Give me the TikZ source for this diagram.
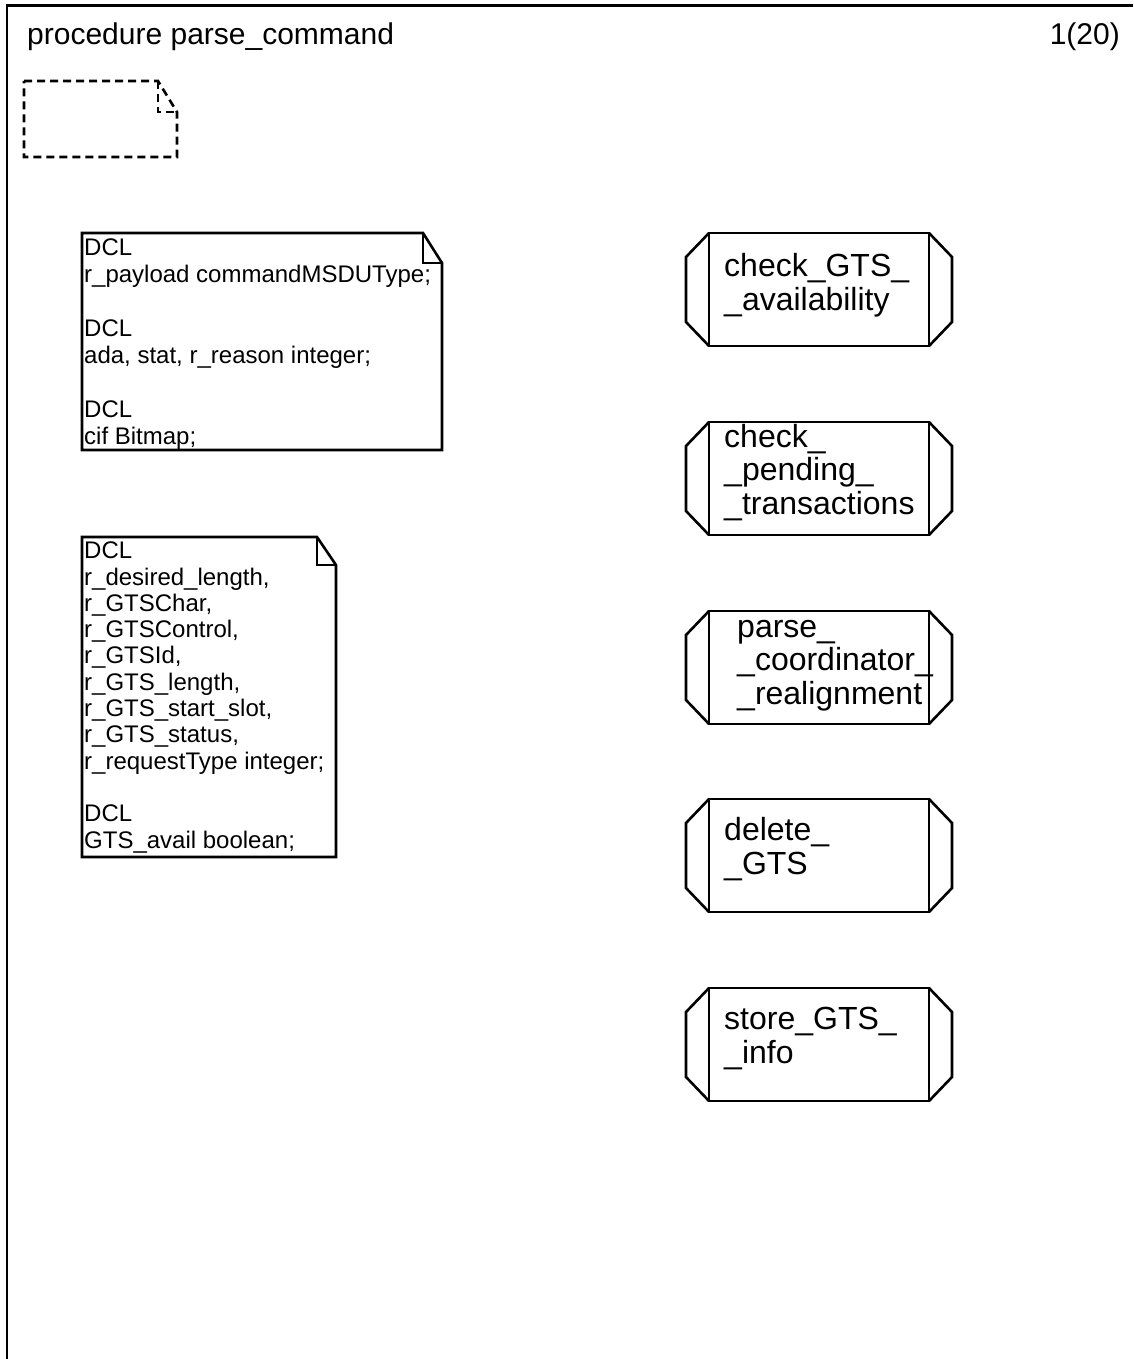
\documentclass[tikz,border=0pt]{standalone}
\usepackage{fontspec}
\setmainfont{Liberation Sans}
\begin{document}
\begin{tikzpicture}[x=1pt,y=-1pt,
  frameline/.style={line width=2.8pt},
  symline/.style={line width=2.6pt, line join=miter},
  dashline/.style={line width=2.6pt, dash pattern=on 8pt off 5pt},
  proc/.style={draw, line width=2.6pt, rectangle, minimum width=220pt,
    minimum height=113pt, inner sep=0pt, outer sep=0pt},
  proctext/.style={font=\fontsize{32}{33.5}\selectfont, inner sep=0pt,
    align=left, anchor=base west},
  decltext/.style={font=\fontsize{24}{26.9}\selectfont, inner sep=0pt,
    align=left, anchor=base west},
  titletext/.style={font=\fontsize{30}{34}\selectfont, inner sep=0pt},
]
\useasboundingbox (0,0) rectangle (1133,1359);
\fill[white] (0,0) rectangle (1133,1359);

% page frame (top and left edges)
\draw[frameline] (7,1359) -- (7,5.5) -- (1133,5.5);

% heading
\node[titletext, anchor=base west] (title) at (27,45) {procedure parse\_command};
\node[titletext, anchor=base east] (page) at (1120,45) {1(20)};

% empty dashed text symbol
\draw[dashline] (24,81) -- (158,81) -- (177,112) -- (177,157) -- (24,157) -- cycle;
\draw[dashline] (158,81) -- (158,112) -- (177,112);

% first declaration symbol (node anchored at the baseline of its last line)
\draw[symline] (82,233) -- (423,233) -- (442,263) -- (442,450) -- (82,450) -- cycle;
\draw[symline] (423,233) -- (423,263) -- (442,263);
\node[decltext] (dcl1) at (84,444) {DCL\\r\_payload commandMSDUType;\\\mbox{}\\DCL\\ada, stat, r\_reason integer;\\\mbox{}\\DCL\\cif Bitmap;};

% second declaration symbol
\draw[symline] (82,537) -- (317,537) -- (336,565) -- (336,857) -- (82,857) -- cycle;
\draw[symline] (317,537) -- (317,565) -- (336,565);
\node[decltext, font=\fontsize{24}{26.3}\selectfont] (dcl2) at (84,848) {DCL\\r\_desired\_length,\\r\_GTSChar,\\r\_GTSControl,\\r\_GTSId,\\r\_GTS\_length,\\r\_GTS\_start\_slot,\\r\_GTS\_status,\\r\_requestType integer;\\\mbox{}\\DCL\\GTS\_avail boolean;};

% procedure reference symbols
\foreach \n/\top in {p1/233, p2/422, p3/611, p4/799, p5/988} {
  \node[proc] (\n) at (819,\top+56.5) {};
  \draw[symline] (\n.north west) -- ++(-23,24) -- ++(0,65) -- (\n.south west);
  \draw[symline] (\n.north east) -- ++(23,24) -- ++(0,65) -- (\n.south east);
}
\node[proctext] (t1) at (724,310) {check\_GTS\_\\\_availability};
\node[proctext] (t2) at (724,514) {check\_\\\_pending\_\\\_transactions};
\node[proctext] (t3) at (737,704) {parse\_\\\_coordinator\_\\\_realignment};
\node[proctext] (t4) at (724,874) {delete\_\\\_GTS};
\node[proctext] (t5) at (724,1063) {store\_GTS\_\\\_info};
\end{tikzpicture}
\end{document}
